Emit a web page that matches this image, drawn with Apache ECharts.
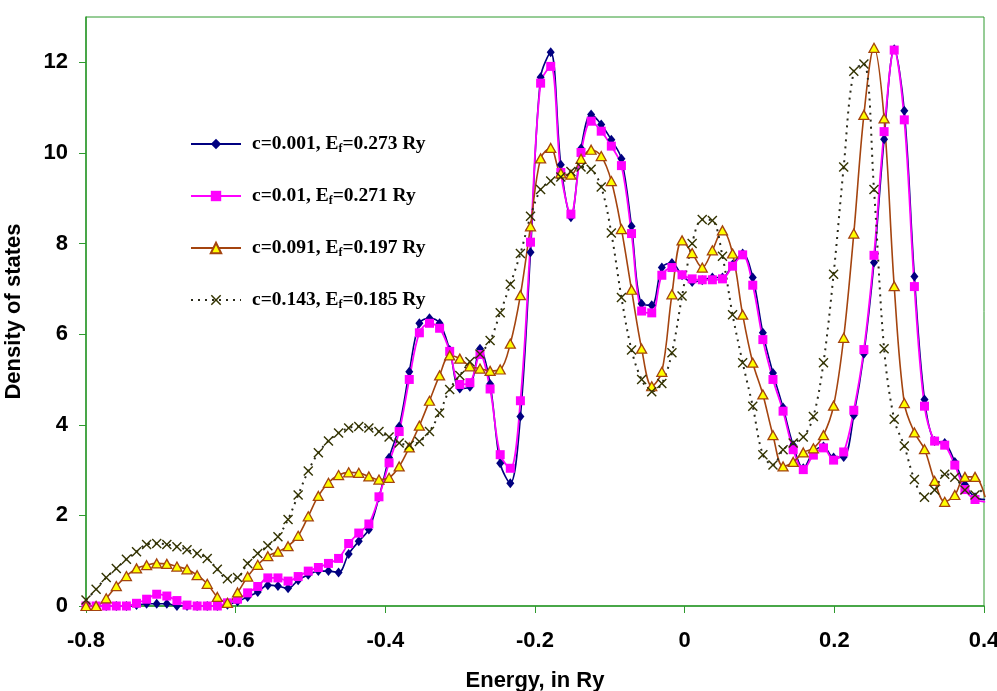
<!DOCTYPE html>
<html>
<head>
<meta charset="utf-8">
<script src="https://cdn.jsdelivr.net/npm/echarts@6/dist/echarts.min.js"></script>
<style>
html,body{margin:0;padding:0;background:#fff;}
#chart{width:997px;height:691px;}
</style>
</head>
<body>
<div id="chart"></div>
<script>
// Energy grid (Ry), shared by all series
var energies = [-0.8, -0.7865, -0.773, -0.7595, -0.746, -0.7325, -0.719, -0.7055, -0.692, -0.6785,
  -0.665, -0.6515, -0.638, -0.6245, -0.611, -0.5975, -0.584, -0.5705, -0.557, -0.5435,
  -0.53, -0.5165, -0.503, -0.4895, -0.476, -0.4625, -0.449, -0.4355, -0.422, -0.4085,
  -0.395, -0.3815, -0.368, -0.3545, -0.341, -0.3275, -0.314, -0.3005, -0.287, -0.2735,
  -0.26, -0.2465, -0.233, -0.2195, -0.206, -0.1925, -0.179, -0.1655, -0.152, -0.1385,
  -0.125, -0.1115, -0.098, -0.0845, -0.071, -0.0575, -0.044, -0.0305, -0.017, -0.0035,
  0.01, 0.0235, 0.037, 0.0505, 0.064, 0.0775, 0.091, 0.1045, 0.118, 0.1315,
  0.145, 0.1585, 0.172, 0.1855, 0.199, 0.2125, 0.226, 0.2395, 0.253, 0.2665,
  0.28, 0.2935, 0.307, 0.3205, 0.334, 0.3475, 0.361, 0.3745, 0.388, 0.4015];

var seriesNames = ['c=0.001, Ef=0.273 Ry', 'c=0.01, Ef=0.271 Ry', 'c=0.091, Ef=0.197 Ry', 'c=0.143, Ef=0.185 Ry'];

var dos001 = [0, 0, 0, 0, 0, 0.02, 0.05, 0.05, 0.05, 0,
  0, 0, 0, 0, 0.03, 0.1, 0.2, 0.31, 0.46, 0.44,
  0.39, 0.57, 0.69, 0.77, 0.77, 0.74, 1.15, 1.43, 1.69, 2.4,
  3.27, 3.96, 5.17, 6.24, 6.35, 6.24, 5.65, 4.8, 4.84, 5.68,
  4.9, 3.15, 2.71, 4.18, 7.81, 11.67, 12.22, 9.74, 8.58, 10.1,
  10.85, 10.63, 10.29, 9.87, 8.38, 6.67, 6.64, 7.47, 7.57, 7.3,
  7.15, 7.19, 7.25, 7.25, 7.54, 7.78, 7.25, 6.03, 5.14, 4.38,
  3.55, 3.04, 3.4, 3.52, 3.28, 3.29, 4.21, 5.57, 7.58, 10.3,
  12.29, 10.93, 7.27, 4.56, 3.64, 3.6, 3.18, 2.68, 2.4, 2.35];

var dos01 = [0, 0, 0, 0, 0, 0.06, 0.15, 0.26, 0.22, 0.12,
  0.02, 0, 0, 0, 0.07, 0.15, 0.29, 0.43, 0.62, 0.62,
  0.55, 0.65, 0.77, 0.85, 0.94, 1.05, 1.38, 1.61, 1.81, 2.41,
  3.16, 3.85, 5.0, 6.03, 6.24, 6.13, 5.62, 4.89, 4.93, 5.55,
  4.79, 3.34, 3.04, 4.53, 8.03, 11.54, 11.91, 9.57, 8.65, 10.01,
  10.7, 10.48, 10.15, 9.72, 8.22, 6.51, 6.47, 7.3, 7.47, 7.31,
  7.22, 7.2, 7.2, 7.22, 7.5, 7.75, 7.08, 5.88, 5.0, 4.3,
  3.45, 3.01, 3.33, 3.49, 3.22, 3.4, 4.32, 5.66, 7.74, 10.47,
  12.27, 10.73, 7.05, 4.41, 3.64, 3.55, 3.11, 2.57, 2.35, 2.3];

var dos091 = [0, 0, 0.17, 0.44, 0.66, 0.83, 0.9, 0.94, 0.93, 0.87,
  0.81, 0.68, 0.49, 0.2, 0.07, 0.3, 0.65, 0.91, 1.1, 1.2,
  1.32, 1.55, 1.98, 2.43, 2.72, 2.89, 2.95, 2.94, 2.86, 2.79,
  2.83, 3.08, 3.5, 3.98, 4.53, 5.09, 5.53, 5.46, 5.29, 5.24,
  5.19, 5.22, 5.79, 6.86, 8.38, 9.88, 10.11, 9.55, 9.52, 9.87,
  10.07, 9.93, 9.38, 8.32, 6.98, 5.68, 4.85, 5.17, 6.88, 8.07,
  7.79, 7.47, 7.85, 8.29, 7.78, 6.43, 5.37, 4.67, 3.77, 3.08,
  3.18, 3.39, 3.48, 3.77, 4.42, 5.92, 8.22, 10.84, 12.32, 10.76,
  7.06, 4.48, 3.83, 3.46, 2.76, 2.3, 2.45, 2.85, 2.85, 2.4];

var dos143 = [0.13, 0.37, 0.63, 0.83, 1.03, 1.2, 1.36, 1.38, 1.36, 1.31,
  1.24, 1.16, 1.05, 0.81, 0.6, 0.63, 0.94, 1.16, 1.33, 1.53,
  1.91, 2.45, 2.98, 3.38, 3.64, 3.82, 3.93, 3.96, 3.93, 3.85,
  3.73, 3.6, 3.55, 3.63, 3.85, 4.26, 4.78, 5.09, 5.39, 5.56,
  5.86, 6.47, 7.1, 7.78, 8.6, 9.19, 9.38, 9.47, 9.59, 9.69,
  9.64, 9.25, 8.23, 6.81, 5.65, 5.0, 4.73, 4.91, 5.59, 6.84,
  8.0, 8.53, 8.51, 7.72, 6.43, 5.37, 4.41, 3.34, 3.11, 3.45,
  3.6, 3.73, 4.18, 5.37, 7.32, 9.69, 11.8, 11.96, 9.19, 5.68,
  4.12, 3.53, 2.79, 2.4, 2.56, 2.91, 2.84, 2.56, 2.45, 2.65];

var xTicks = [-0.8, -0.6, -0.4, -0.2, 0, 0.2, 0.4];
var yTicks = [0, 2, 4, 6, 8, 10, 12];

function pairs(arr) { return energies.map(function (e, i) { return [e, arr[i]]; }); }

var axisGreen = '#2f9a2f';
var xPath = 'path://M0,1 L1,0 L5,4 L9,0 L10,1 L6,5 L10,9 L9,10 L5,6 L1,10 L0,9 L4,5 Z';
var SMOOTH = 0.35;
var FONT = 'Liberation Sans';

var chart = echarts.init(document.getElementById('chart'));
chart.setOption({
  animation: false,
  backgroundColor: '#ffffff',
  grid: {
    left: 86, right: 13, top: 17, bottom: 85, outerBoundsMode: 'none', containLabel: false,
    show: true, borderColor: axisGreen, borderWidth: 1, backgroundColor: 'transparent'
  },
  legend: {
    orient: 'vertical', left: 185, top: 129, itemWidth: 50, itemHeight: 13, itemGap: 31,
    data: seriesNames,
    formatter: function (name) {
      var m = name.match(/^(.*E)f(=.*)$/);
      return '{a|' + m[1] + '}{s|f}{a|' + m[2] + '}';
    },
    textStyle: {
      padding: [0, 0, 0, 6],
      rich: {
        a: { fontFamily: 'Liberation Serif', fontWeight: 'bold', fontSize: 19.5, color: '#000' },
        s: { fontFamily: 'Liberation Serif', fontWeight: 'bold', fontSize: 12, color: '#000', padding: [10, 0, 0, 0] }
      }
    }
  },
  xAxis: {
    type: 'value', min: -0.8, max: 0.4, interval: 0.2,
    name: 'Energy, in Ry', nameLocation: 'middle', nameGap: 64,
    nameTextStyle: { fontFamily: FONT, fontWeight: 'bold', fontSize: 22, color: '#000' },
    axisLine: { onZero: false, lineStyle: { color: axisGreen, width: 1.5 } },
    axisTick: { show: true, length: 7, lineStyle: { color: axisGreen, width: 1 }, customValues: xTicks },
    axisLabel: {
      customValues: xTicks, margin: 24,
      fontFamily: FONT, fontWeight: 'bold', fontSize: 22, color: '#000',
      formatter: function (v) { return String(Math.round(v * 10) / 10); }
    },
    splitLine: { show: false }
  },
  yAxis: {
    type: 'value', min: 0, max: 13, interval: 2,
    name: 'Density of states', nameLocation: 'middle', nameGap: 61,
    nameTextStyle: { fontFamily: FONT, fontWeight: 'bold', fontSize: 22, color: '#000' },
    axisLine: { show: true, onZero: false, lineStyle: { color: axisGreen, width: 1.5 } },
    axisTick: { show: true, length: 7, lineStyle: { color: axisGreen, width: 1 }, customValues: yTicks },
    axisLabel: { customValues: yTicks, margin: 18, fontFamily: FONT, fontWeight: 'bold', fontSize: 22, color: '#000' },
    splitLine: { show: false }
  },
  series: [
    {
      name: seriesNames[0], type: 'line', data: pairs(dos001), smooth: SMOOTH,
      symbol: 'diamond', symbolSize: [8, 10],
      lineStyle: { color: '#000080', width: 1.6 },
      itemStyle: { color: '#000080', borderWidth: 0 }
    },
    {
      name: seriesNames[1], type: 'line', data: pairs(dos01), smooth: SMOOTH,
      symbol: 'rect', symbolSize: 9,
      lineStyle: { color: '#ff00ff', width: 1.8 },
      itemStyle: { color: '#ff00ff', borderWidth: 0 }
    },
    {
      name: seriesNames[2], type: 'line', data: pairs(dos091), smooth: SMOOTH,
      symbol: 'triangle', symbolSize: [10, 9],
      lineStyle: { color: '#a4440f', width: 1.6 },
      itemStyle: { color: '#ffff00', borderColor: '#a4440f', borderWidth: 1.3 }
    },
    {
      name: seriesNames[3], type: 'line', data: pairs(dos143), smooth: SMOOTH,
      symbol: xPath, symbolSize: 10, symbolKeepAspect: true,
      lineStyle: { color: '#2a2a1a', width: 2, type: [2, 5] },
      itemStyle: { color: '#333300', borderWidth: 0 }
    }
  ]
});
</script>
</body>
</html>
